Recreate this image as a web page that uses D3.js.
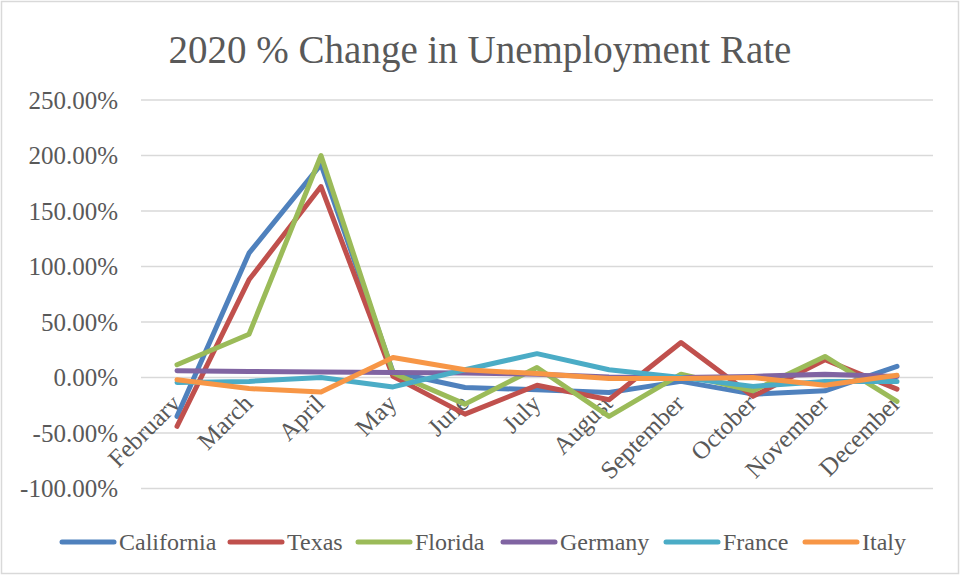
<!DOCTYPE html>
<html>
<head>
<meta charset="utf-8">
<script src="https://cdn.jsdelivr.net/npm/d3@7"></script>
<style>
  body { margin: 0; background: #fff; }
  text { font-family: "Liberation Serif", serif; fill: #595959; }
</style>
</head>
<body>
<div id="chart"></div>
<script>
// months on the category axis
const months = ["February", "March", "April", "May", "June", "July",
    "August", "September", "October", "November", "December"];

// % change per month
const california = [-35, 112, 192, 5, -9, -11, -13.5, -3.5, -15, -12, 10];
const texas = [-44, 88, 172, 1, -33, -7, -20, 31.5, -17, 16, -10.5];
const florida = [11.5, 39, 200, 4, -24, 9, -35, 3, -12, 19, -21.5];
const germany = [6, 5.5, 5, 4.5, 4, 3, 0.5, 0, 1, 3, 1];
const france = [-4.5, -3.5, 0, -8.5, 7, 21.5, 7, 0, -8, -3.5, -3.5];
const italy = [-2, -10, -13, 18, 7, 3.5, -1, -1, 0, -7, 2];

const seriesNames = ["California", "Texas", "Florida", "Germany", "France", "Italy"];
const seriesColors = ["#4F81BD", "#C0504D", "#9BBB59", "#8064A2", "#4BACC6", "#F79646"];
const yTicks = [-100, -50, 0, 50, 100, 150, 200, 250];

const series = [california, texas, florida, germany, france, italy].map((vals, i) => ({
    name: seriesNames[i],
    color: seriesColors[i],
    values: vals.map((v, j) => ({ month: months[j], value: v }))
}));

const width = 962,
    height = 575,
    margin = { left: 141, right: 29, top: 100, bottom: 86 };

const svg = d3.select("#chart").append("svg")
    .attr("width", width)
    .attr("height", height);

// outer chart border
svg.append("rect")
    .attr("x", 1.5).attr("y", 1.5)
    .attr("width", width - 5).attr("height", height - 3)
    .attr("fill", "none")
    .attr("stroke", "#d9d9d9")
    .attr("stroke-width", 1.5);

svg.append("text")
    .attr("x", 480).attr("y", 63)
    .attr("text-anchor", "middle")
    .style("font-size", "39px")
    .text("2020 % Change in Unemployment Rate");

const xScale = d3.scaleBand()
    .domain(months)
    .range([margin.left, width - margin.right]);

const yScale = d3.scaleLinear()
    .domain([-100, 250])
    .range([height - margin.bottom - 0.5, margin.top]);

// gridlines
svg.append("g").selectAll("line")
    .data(yTicks)
    .join("line")
    .attr("x1", margin.left)
    .attr("x2", width - margin.right)
    .attr("y1", d => yScale(d))
    .attr("y2", d => yScale(d))
    .attr("stroke", "#d9d9d9")
    .attr("stroke-width", 1.5);

// y axis labels
const yAxis = d3.axisLeft(yScale)
    .tickValues(yTicks)
    .tickSize(0)
    .tickPadding(0)
    .tickFormat(d => d.toFixed(2) + "%");

svg.append("g")
    .attr("transform", "translate(118,0)")
    .call(yAxis)
    .call(g => g.select(".domain").remove())
    .selectAll("text")
    .attr("fill", "#595959")
    .style("font-family", "Liberation Serif, serif")
    .style("font-size", "25px");

// category labels, rotated
svg.append("g").selectAll("text")
    .data(months)
    .join("text")
    .attr("text-anchor", "end")
    .attr("transform", d => "translate(" + (xScale(d) + xScale.bandwidth() / 2 + 5) + "," + 405 + ") rotate(-45)")
    .style("font-size", "25px")
    .text(d => d);

// lines
const line = d3.line()
    .x(d => xScale(d.month) + xScale.bandwidth() / 2)
    .y(d => yScale(d.value));

svg.append("g").selectAll("path")
    .data(series)
    .join("path")
    .attr("d", d => line(d.values))
    .attr("fill", "none")
    .attr("stroke", d => d.color)
    .attr("stroke-width", 5)
    .attr("stroke-linejoin", "round")
    .attr("stroke-linecap", "round");

// legend
const legendX = [62, 230, 358, 503, 666, 805];
const legend = svg.append("g").selectAll("g")
    .data(series)
    .join("g")
    .attr("transform", (d, i) => "translate(" + legendX[i] + ",542)");

legend.append("line")
    .attr("x1", 0).attr("x2", 52)
    .attr("stroke", d => d.color)
    .attr("stroke-width", 5)
    .attr("stroke-linecap", "round");

legend.append("text")
    .attr("x", 57)
    .attr("y", 8)
    .style("font-size", "24px")
    .text(d => d.name);
</script>
</body>
</html>
